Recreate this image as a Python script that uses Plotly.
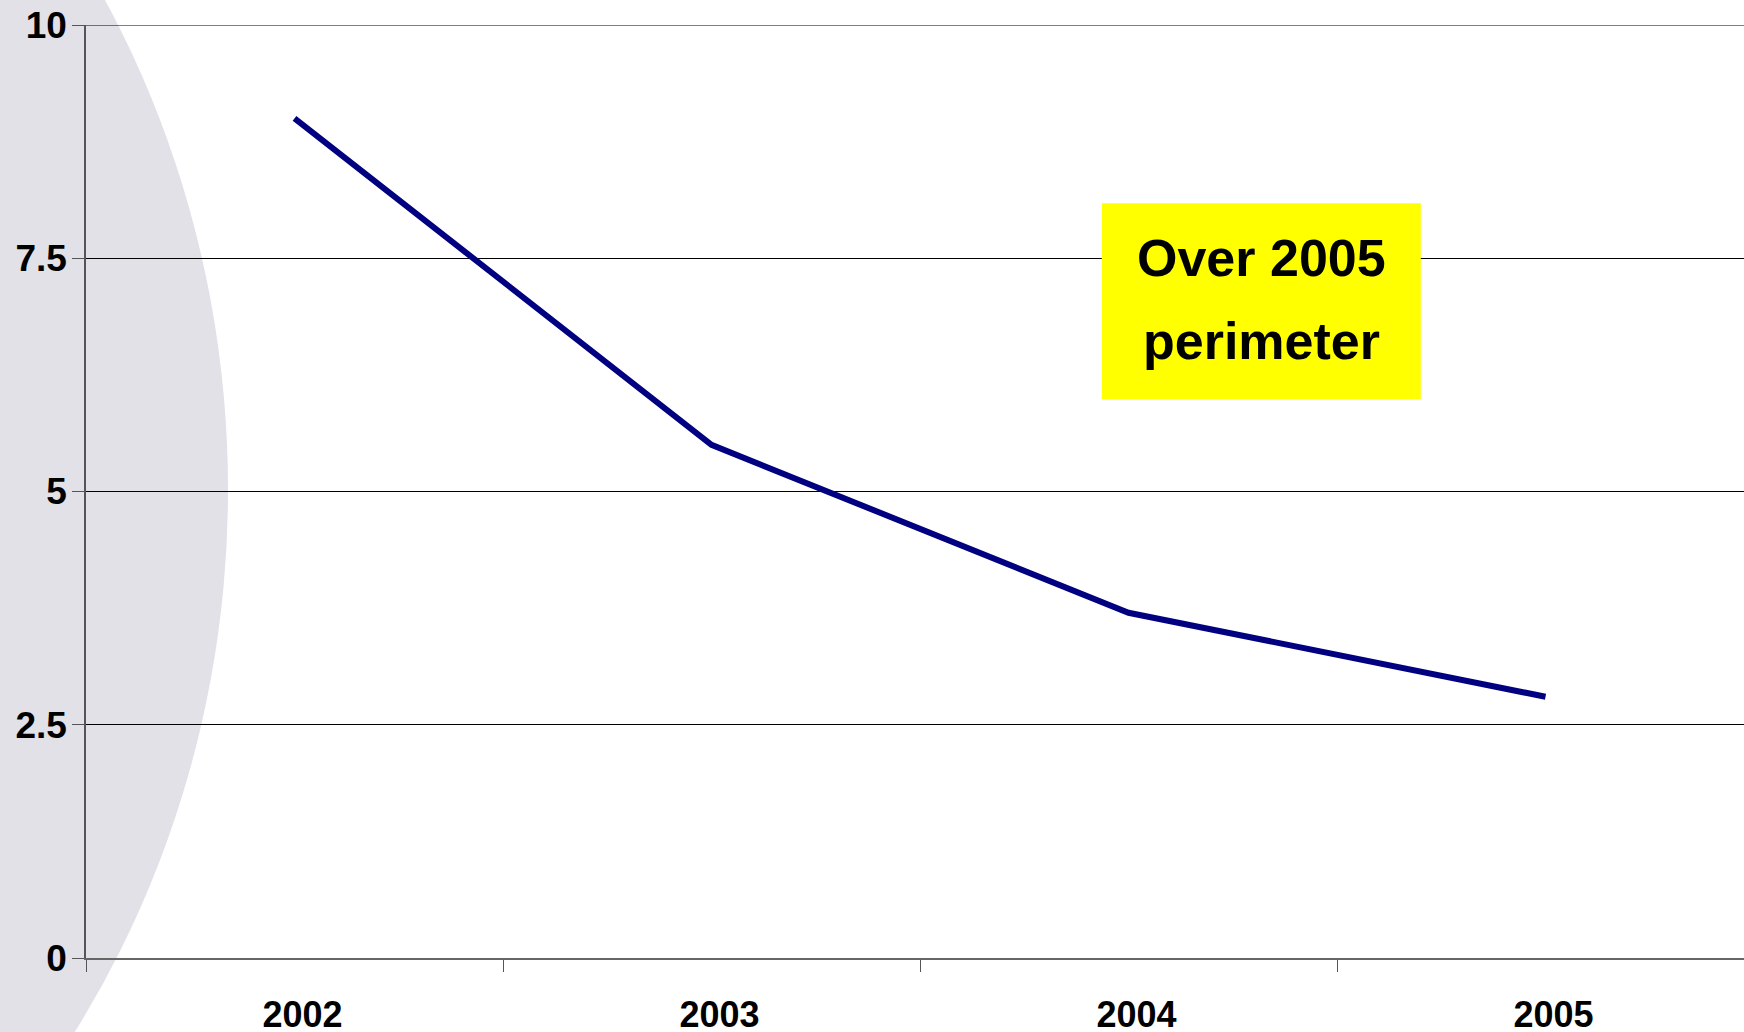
import plotly.graph_objects as go

# Series data
years = ["2002", "2003", "2004", "2005"]
values = [9.0, 5.5, 3.7, 2.8]

y_tickvals = [0, 2.5, 5, 7.5, 10]
y_ticktext = ["0", "2.5", "5", "7.5", "10"]

note_lines = ["Over 2005", "perimeter"]

W, H = 1744, 1032
ML, MR, MT, MB = 86, 0, 25, 74
PW, PH = W - ML - MR, H - MT - MB


def px_to_paper(px, py):
    return (px - ML) / PW, (H - MB - py) / PH


FONT = "Liberation Sans, Arial, sans-serif"

fig = go.Figure()
fig.add_trace(go.Scatter(
    x=years, y=values, mode="lines",
    line=dict(color="#000080", width=6),
    hoverinfo="skip", showlegend=False,
))

# Decorative grey ellipse on the left side of the slide
ex0, ey0 = px_to_paper(-1572, -481)
ex1, ey1 = px_to_paper(228, 1461)
shapes = [dict(
    type="circle", xref="paper", yref="paper",
    x0=ex0, x1=ex1, y0=ey1, y1=ey0,
    fillcolor="#e1e1e7", line=dict(width=0), layer="below",
)]

# Gridline at the top of the value range
shapes.append(dict(
    type="line", xref="paper", yref="y",
    x0=0, x1=1, y0=y_tickvals[-1], y1=y_tickvals[-1],
    line=dict(color="black", width=1), layer="below",
))

# Yellow note box
shapes.append(dict(
    type="rect", xref="x", yref="y",
    x0=1.936, x1=2.701, y0=5.99, y1=8.09,
    fillcolor="#ffff00", line=dict(width=0), layer="above",
))

annotations = [
    dict(x=2.319, y=7.5, xref="x", yref="y", text="<b>%s</b>" % note_lines[0],
         showarrow=False, font=dict(family=FONT, size=52, color="black"),
         xanchor="center", yanchor="middle"),
    dict(x=2.319, y=6.61, xref="x", yref="y", text="<b>%s</b>" % note_lines[1],
         showarrow=False, font=dict(family=FONT, size=52, color="black"),
         xanchor="center", yanchor="middle"),
]

fig.update_layout(
    width=W, height=H,
    margin=dict(l=ML, r=MR, t=MT, b=MB, pad=0),
    paper_bgcolor="white",
    plot_bgcolor="rgba(0,0,0,0)",
    shapes=shapes,
    annotations=annotations,
    showlegend=False,
    xaxis=dict(
        type="category", categoryorder="array", categoryarray=years,
        range=[-0.5, 3.476],
        tickson="boundaries", ticks="outside", ticklen=12, tickwidth=1,
        tickcolor="#555555",
        showgrid=False, zeroline=False,
        showline=True, linecolor="#666666", linewidth=1.5,
        tickfont=dict(family=FONT, size=36, color="black", weight="bold"),
        ticklabelstandoff=24, ticklabelshift=8,
        automargin=False,
    ),
    yaxis=dict(
        range=[0, 10],
        tickvals=y_tickvals, ticktext=y_ticktext,
        ticks="outside", ticklen=12, tickwidth=1, tickcolor="#555555",
        showgrid=True, gridcolor="black", gridwidth=1,
        zeroline=False,
        showline=True, linecolor="#555555", linewidth=1.5,
        tickfont=dict(family=FONT, size=37, color="black", weight="bold"),
        ticklabelstandoff=-2,
        automargin=False,
    ),
)

fig.write_html("out.html")
